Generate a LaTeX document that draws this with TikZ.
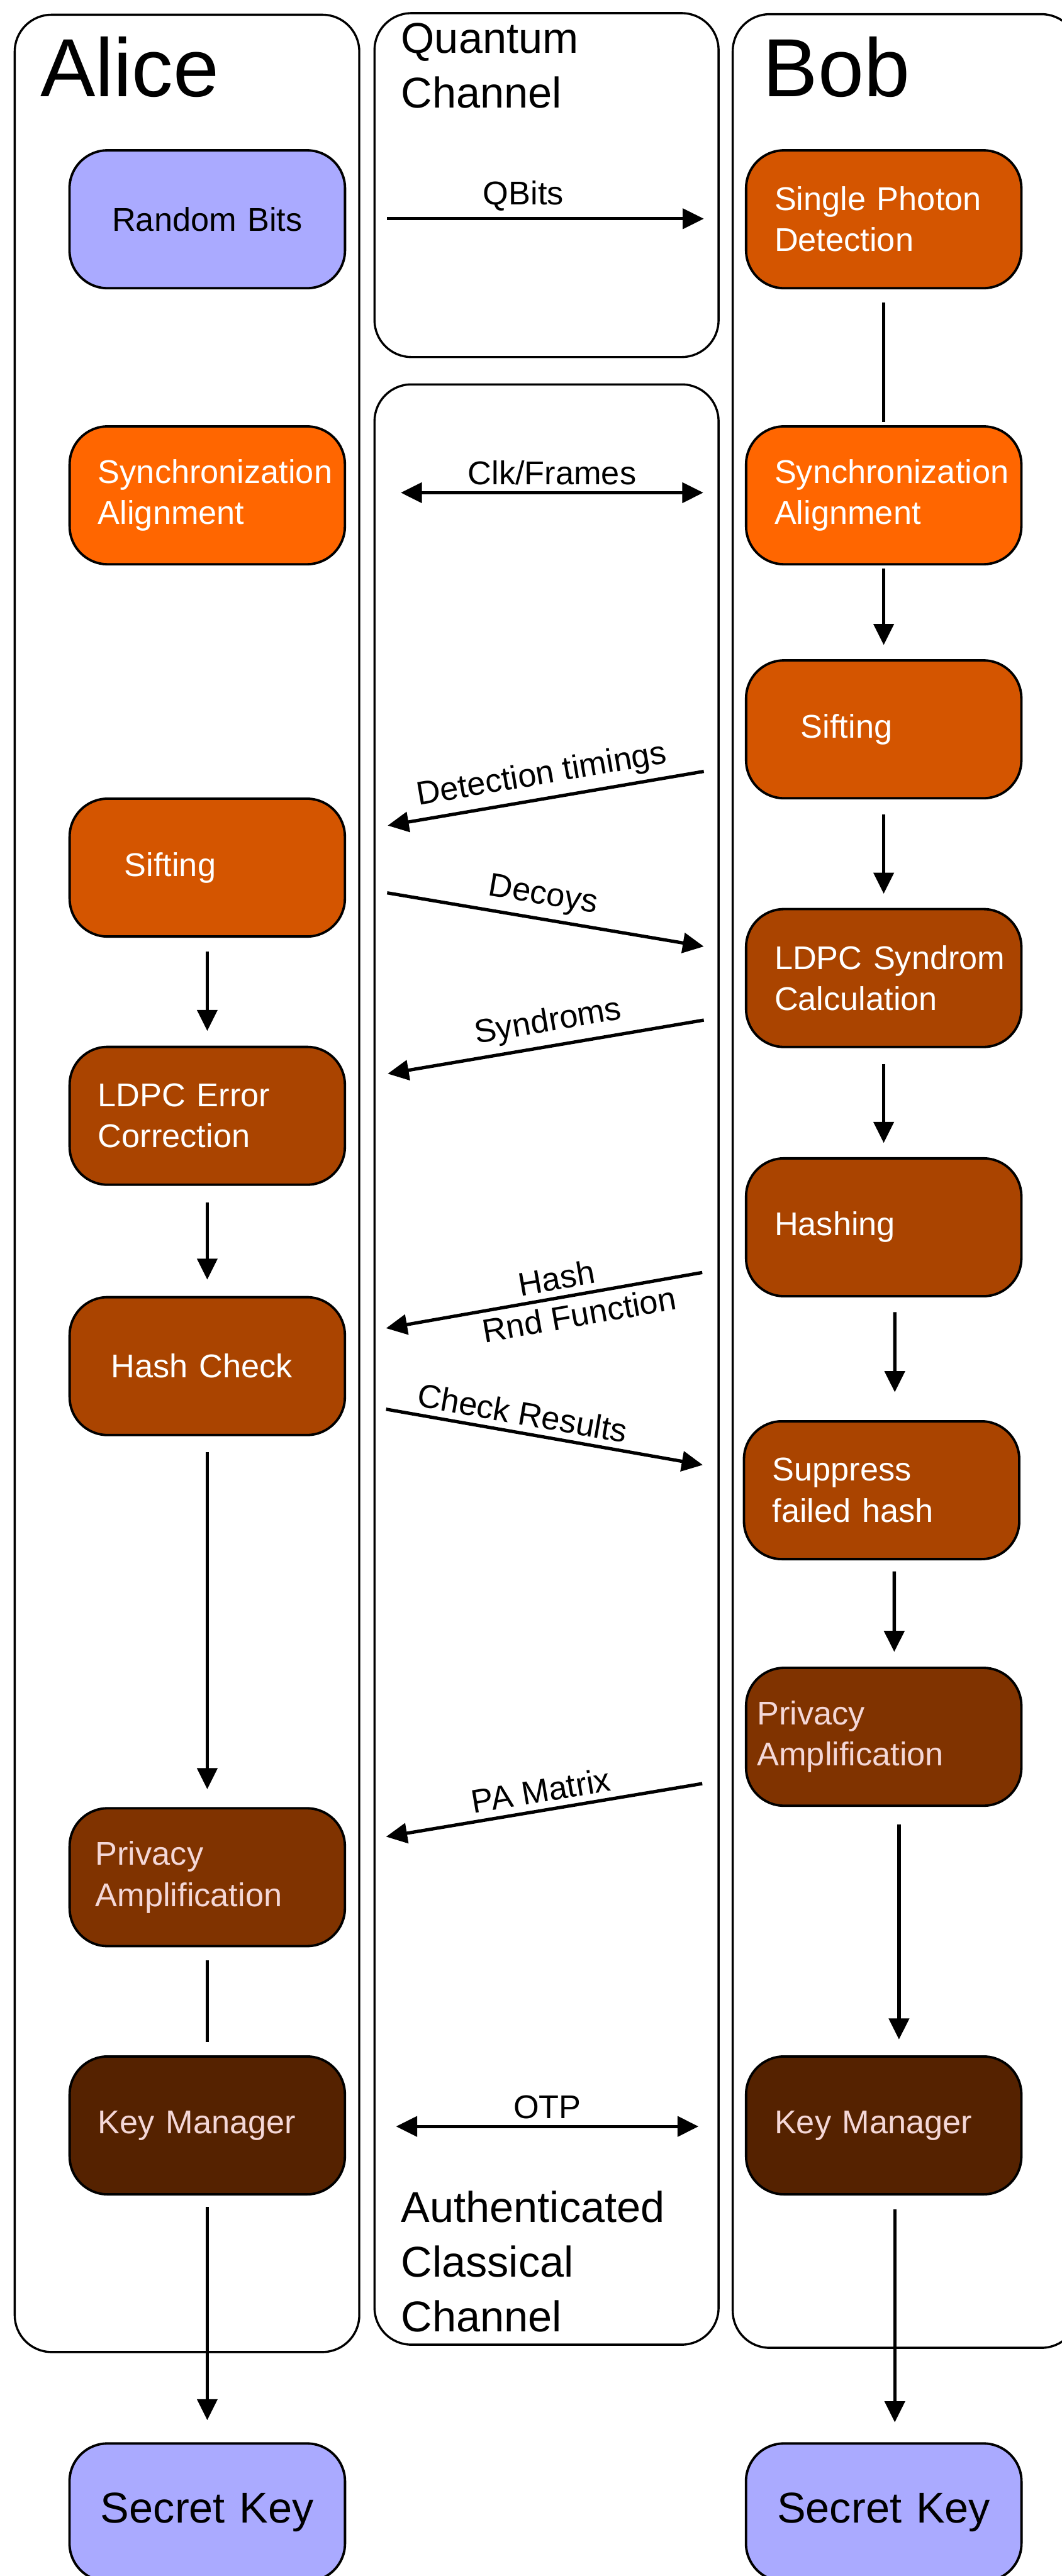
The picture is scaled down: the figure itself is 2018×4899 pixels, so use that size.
\documentclass[tikz,border=0pt]{standalone}
\usepackage{fontspec}
\setmainfont{Liberation Sans}
\usetikzlibrary{arrows.meta}

\definecolor{qkdlavender}{HTML}{AAAAFF}
\definecolor{qkdrust}{HTML}{D45500}
\definecolor{qkdorange}{HTML}{FF6600}
\definecolor{qkdbrown}{HTML}{AA4400}
\definecolor{qkdumber}{HTML}{803300}
\definecolor{qkddark}{HTML}{552200}
\definecolor{qkdpink}{HTML}{F4D7D7}

\newcommand{\stagefont}{\fontsize{17.8}{22.2}\selectfont}
\newcommand{\chanfont}{\fontsize{23.3}{29.5}\selectfont}
\newcommand{\partyfont}{\fontsize{44.6}{50}\selectfont}

\begin{document}
\begin{tikzpicture}[x=0.01cm, y=-0.01cm,
  lane/.style={draw, line width=1.15pt, rounded corners=0.7cm},
  stage/.style={draw, line width=1.3pt, rounded corners=0.72cm,
    minimum width=5.23cm, minimum height=2.62cm, text width=4.15cm,
    align=left, text=white, font=\stagefont},
  keybox/.style={stage, fill=qkdlavender, text=black, text width=5cm, align=center},
  title/.style={anchor=base west, inner sep=0pt, align=left},
  flow/.style={-{Triangle[length=4mm,width=3.8mm]}, line width=1.8pt},
  flowback/.style={{Triangle[length=4mm,width=3.8mm]}-, line width=1.8pt},
  twoway/.style={{Triangle[length=4mm,width=3.8mm]}-{Triangle[length=4mm,width=3.8mm]}, line width=1.8pt},
  link/.style={line width=1.8pt},
  msg/.style={font=\stagefont, sloped, above}]
  \useasboundingbox (0,0) rectangle (2018,4899);

  % swim lanes
  \draw[lane] (28,28) rectangle (683,4473);
  \draw[lane] (712,25) rectangle (1366,679);
  \draw[lane] (712,731) rectangle (1366,4459);
  \draw[lane] (1393,27) rectangle (2050,4465);
  \node[title, font=\partyfont] (alice) at (76,183) {Alice};
  \node[title, font=\partyfont] (bob) at (1450,183) {Bob};
  \node[title, font=\chanfont] (quantum) at (762,205) {Quantum\\Channel};
  \node[title, font=\chanfont] (classical) at (762,4434) {Authenticated\\Classical\\Channel};

  % Alice
  \node[keybox] (rndA) at (394,417) {Random Bits};
  \node[stage, fill=qkdorange] (syncA) at (394,942) {Synchronization\\Alignment};
  \node[stage, fill=qkdrust, text width=3.15cm] (sifA) at (394,1650) {Sifting};
  \node[stage, fill=qkdbrown] (ldpcA) at (394,2122) {LDPC Error\\Correction};
  \node[stage, fill=qkdbrown, text width=3.65cm] (hashA) at (394,2598) {Hash Check};
  \node[stage, fill=qkdumber, text=qkdpink, text width=4.25cm] (paA) at (394,3570) {Privacy\\Amplification};
  \node[stage, fill=qkddark, text=qkdpink] (kmA) at (394,4042) {Key Manager};
  \node[keybox, font=\chanfont] (skA) at (394,4778) {Secret Key};

  % Bob
  \node[stage, fill=qkdrust] (spdB) at (1680,417) {Single Photon\\Detection};
  \node[stage, fill=qkdorange] (syncB) at (1680,942) {Synchronization\\Alignment};
  \node[stage, fill=qkdrust, text width=3.15cm] (sifB) at (1680,1387) {Sifting};
  \node[stage, fill=qkdbrown] (ldpcB) at (1680,1860) {\mbox{LDPC Syndrom}\\Calculation};
  \node[stage, fill=qkdbrown] (hashB) at (1680,2334) {Hashing};
  \node[stage, fill=qkdbrown] (supB) at (1676,2834) {Suppress\\failed hash};
  \node[stage, fill=qkdumber, text=qkdpink, text width=4.81cm] (paB) at (1680,3303) {Privacy\\Amplification};
  \node[stage, fill=qkddark, text=qkdpink] (kmB) at (1680,4042) {Key Manager};
  \node[keybox, font=\chanfont] (skB) at (1680,4778) {Secret Key};

  % Alice flow
  \draw[flow, shorten <=0.26cm, shorten >=0.28cm] (sifA) -- (ldpcA);
  \draw[flow, shorten <=0.32cm, shorten >=0.31cm] (ldpcA) -- (hashA);
  \draw[flow, shorten <=0.3cm, shorten >=0.34cm] (hashA) -- (paA);
  \draw[link, shorten <=0.25cm, shorten >=0.25cm] (paA) -- (kmA);
  \draw[flow, shorten <=0.22cm, shorten >=0.42cm] (kmA) -- (skA);

  % Bob flow
  \draw[link, shorten <=0.25cm, shorten >=0.06cm] (spdB) -- (syncB);
  \draw[flow, shorten <=0.06cm, shorten >=0.27cm] (syncB) -- (sifB);
  \draw[flow, shorten <=0.28cm, shorten >=0.27cm] (sifB) -- (ldpcB);
  \draw[flow, shorten <=0.3cm, shorten >=0.27cm] (ldpcB) -- (hashB);
  \draw[flow, shorten <=0.28cm, shorten >=0.53cm] ([xshift=0.21cm]hashB.south) -- ([xshift=0.25cm]supB.north);
  \draw[flow, shorten <=0.21cm, shorten >=0.28cm] ([xshift=0.24cm]supB.south) -- ([xshift=0.2cm]paB.north);
  \draw[flow, shorten <=0.33cm, shorten >=0.3cm] ([xshift=0.29cm]paB.south) -- ([xshift=0.29cm]kmB.north);
  \draw[flow, shorten <=0.26cm, shorten >=0.38cm] ([xshift=0.21cm]kmB.south) -- ([xshift=0.21cm]skB.north);

  % channel messages
  \coordinate (qbA) at (736,416);   \coordinate (qbB) at (1338,416);
  \coordinate (clkA) at (762,937);  \coordinate (clkB) at (1337,937);
  \coordinate (dtA) at (737,1570);  \coordinate (dtB) at (1338,1467);
  \coordinate (dcA) at (736,1698);  \coordinate (dcB) at (1338,1800);
  \coordinate (syA) at (737,2042);  \coordinate (syB) at (1338,1940);
  \coordinate (hfA) at (734,2526);  \coordinate (hfB) at (1335,2420);
  \coordinate (crA) at (734,2680);  \coordinate (crB) at (1336,2786);
  \coordinate (pmA) at (734,3493);  \coordinate (pmB) at (1335,3392);
  \coordinate (otpA) at (753,4044); \coordinate (otpB) at (1328,4044);
  \draw[flow] (qbA) -- node[msg, pos=0.43] {QBits} (qbB);
  \draw[twoway] (clkA) -- node[msg] {Clk/Frames} (clkB);
  \draw[flowback] (dtA) -- node[msg] {Detection timings} (dtB);
  \draw[flow] (dcA) -- node[msg, pos=0.48] {Decoys} (dcB);
  \draw[flowback] (syA) -- node[msg, pos=0.52] {Syndroms} (syB);
  \draw[flowback] (hfA) -- node[msg, pos=0.55] {Hash} node[msg, below, pos=0.6] {Rnd Function} (hfB);
  \draw[flow] (crA) -- node[msg, pos=0.42] {Check Results} (crB);
  \draw[flowback] (pmA) -- node[msg] {PA Matrix} (pmB);
  \draw[twoway] (otpA) -- node[msg] {OTP} (otpB);
\end{tikzpicture}
\end{document}
